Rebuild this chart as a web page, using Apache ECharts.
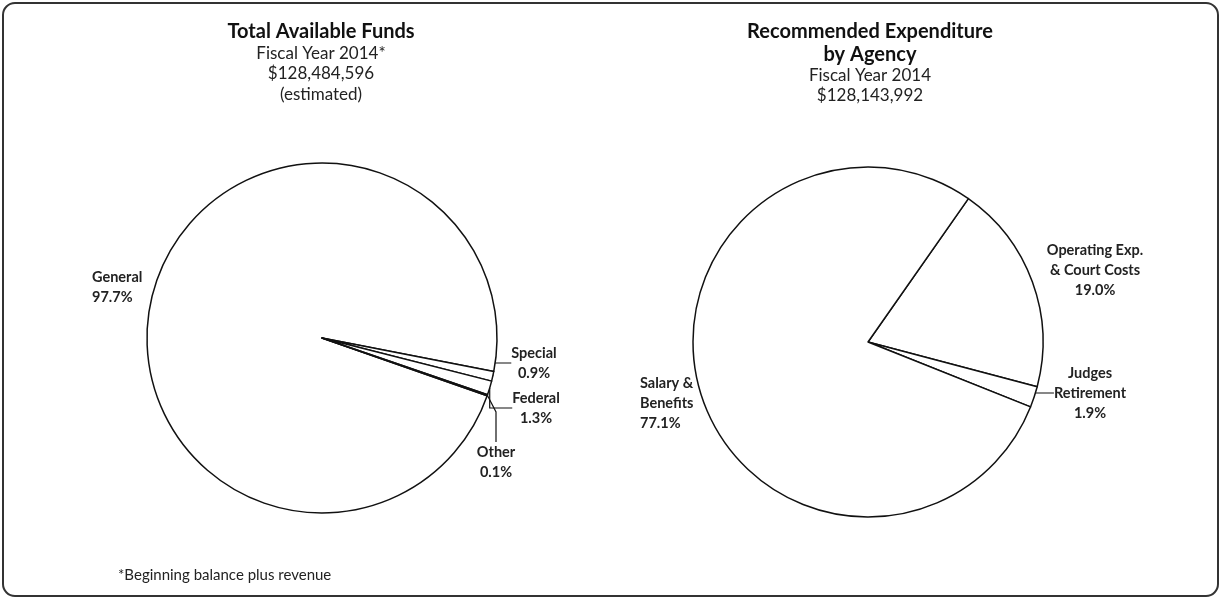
<!DOCTYPE html>
<html>
<head>
<meta charset="utf-8">
<script src="https://cdn.jsdelivr.net/npm/echarts@6/dist/echarts.min.js"></script>
<style>
  html, body { margin: 0; padding: 0; background: #fff; }
  #main { width: 1221px; height: 599px; }
</style>
</head>
<body>
<div id="main"></div>
<script>
"use strict";

// left pie - total available funds (percent)
const fundNames = ['General', 'Special', 'Federal', 'Other'];
const fundValues = [97.7, 0.9, 1.3, 0.1];

// right pie - recommended expenditure (percent)
const spendNames = ['Operating Exp.\n& Court Costs', 'Judges\nRetirement', 'Salary &\nBenefits'];
const spendValues = [19.0, 1.9, 77.1];

// label placement per slice [x, y, align]
const fundLabelPos = [[92, 287, 'left'], [534, 363, 'center'], [536, 408, 'center'], [496, 462, 'center']];
const spendLabelPos = [[1095, 270, 'center'], [1090, 393, 'center'], [640, 403, 'left']];
const fundLines = [false, true, true, true];
const spendLines = [false, true, false];

const FONT = 'Lato';

const toData = function(names, values, lines) {
    const res = [];
    for (let i = 0; i < names.length; i++) {
        res.push({
            name: names[i],
            value: values[i],
            labelLine: { show: lines[i] }
        });
    }
    return res;
};

const chart = echarts.init(document.getElementById('main'));

const pieBase = {
    type: 'pie',
    radius: 175,
    clockwise: true,
    itemStyle: { color: '#fff', borderColor: '#111', borderWidth: 1.5 },
    emphasis: { disabled: true },
    label: {
        show: true,
        position: 'outside',
        color: '#222',
        fontFamily: FONT,
        fontWeight: 'bold',
        fontSize: 14.5,
        lineHeight: 20,
        formatter: p => p.name + '\n' + p.value.toFixed(1) + '%'
    },
    labelLine: { lineStyle: { color: '#111', width: 1.2 } }
};

const option = {
    animation: false,
    title: [{
        text: 'Total Available Funds',
        subtext: 'Fiscal Year 2014*\n$128,484,596\n(estimated)',
        left: 316,
        top: 15,
        textAlign: 'center',
        itemGap: 0,
        textStyle: { fontFamily: FONT, fontWeight: 'bold', fontSize: 20, color: '#111', lineHeight: 23 },
        subtextStyle: { fontFamily: FONT, fontSize: 17, color: '#222', lineHeight: 20.5 }
    }, {
        text: 'Recommended Expenditure\nby Agency',
        subtext: 'Fiscal Year 2014\n$128,143,992',
        left: 865,
        top: 15,
        textAlign: 'center',
        itemGap: -1,
        textStyle: { fontFamily: FONT, fontWeight: 'bold', fontSize: 20, color: '#111', lineHeight: 23 },
        subtextStyle: { fontFamily: FONT, fontSize: 17, color: '#222', lineHeight: 20.5 }
    }],
    graphic: [{
        type: 'rect',
        shape: { x: 3, y: 3, width: 1215, height: 593, r: 12 },
        style: { fill: 'none', stroke: '#333', lineWidth: 2 }
    }, {
        type: 'text',
        left: 118,
        top: 568,
        style: { text: '*Beginning balance plus revenue', fontFamily: FONT, fontSize: 15, fill: '#222' }
    }],
    series: [
        Object.assign({}, pieBase, {
            name: 'Total Available Funds',
            center: [322, 338],
            startAngle: 340.7,
            data: toData(fundNames, fundValues, fundLines),
            labelLayout: function(params) {
                const p = fundLabelPos[params.dataIndex];
                return { x: p[0], y: p[1], align: p[2], verticalAlign: 'middle' };
            }
        }),
        Object.assign({}, pieBase, {
            name: 'Recommended Expenditure',
            center: [868, 342],
            startAngle: 55,
            data: toData(spendNames, spendValues, spendLines),
            labelLayout: function(params) {
                const p = spendLabelPos[params.dataIndex];
                return { x: p[0], y: p[1], align: p[2], verticalAlign: 'middle' };
            }
        })
    ]
};
chart.setOption(option);
</script>
</body>
</html>
